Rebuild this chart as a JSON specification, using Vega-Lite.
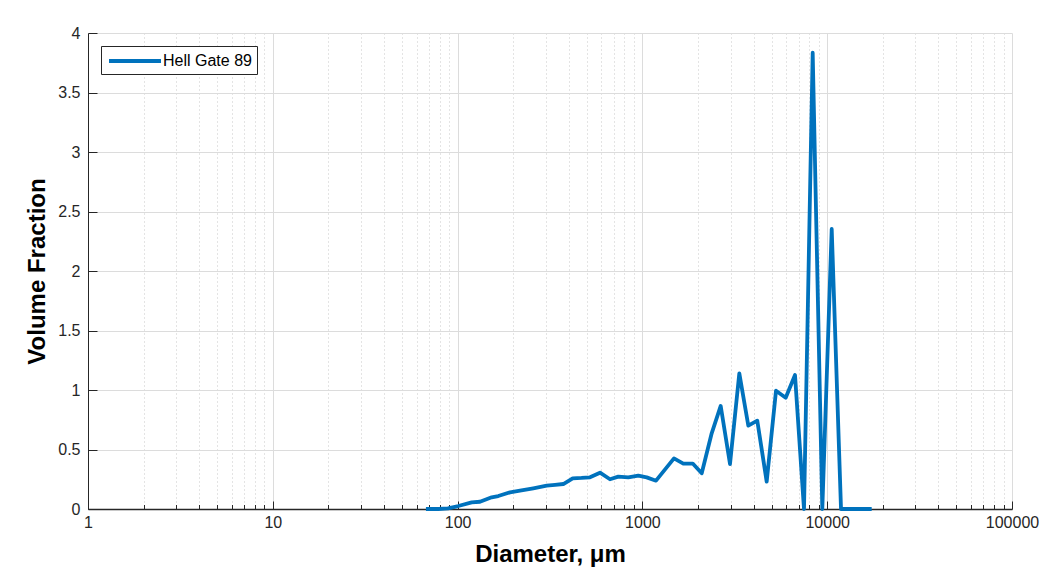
{
  "$schema": "https://vega.github.io/schema/vega-lite/v6.json",
  "width": 924,
  "height": 476,
  "autosize": {"type": "none"},
  "padding": {"left": 88, "top": 33, "right": 33, "bottom": 64},
  "background": "white",
  "config": {
    "view": {"stroke": null},
    "font": "Liberation Sans",
    "axis": {
      "labelFont": "Liberation Sans",
      "titleFont": "Liberation Sans",
      "labelColor": "#262626",
      "titleColor": "#000000",
      "domainColor": "#262626",
      "tickColor": "#262626",
      "labelFontSize": 16,
      "titleFontSize": 24,
      "titleFontWeight": "bold",
      "labelOverlap": false,
      "labelBound": false,
      "labelFlush": false
    }
  },
  "data": {
    "values": [
      {"sample": "Hell Gate 89", "diameter": 67.4, "volume_fraction": 0},
      {"sample": "Hell Gate 89", "diameter": 78.6, "volume_fraction": 0},
      {"sample": "Hell Gate 89", "diameter": 88.7, "volume_fraction": 0.005},
      {"sample": "Hell Gate 89", "diameter": 100.9, "volume_fraction": 0.025},
      {"sample": "Hell Gate 89", "diameter": 119.2, "volume_fraction": 0.056},
      {"sample": "Hell Gate 89", "diameter": 132.2, "volume_fraction": 0.061},
      {"sample": "Hell Gate 89", "diameter": 152.9, "volume_fraction": 0.098},
      {"sample": "Hell Gate 89", "diameter": 166.0, "volume_fraction": 0.109},
      {"sample": "Hell Gate 89", "diameter": 192.1, "volume_fraction": 0.14},
      {"sample": "Hell Gate 89", "diameter": 217.6, "volume_fraction": 0.154},
      {"sample": "Hell Gate 89", "diameter": 256.8, "volume_fraction": 0.174},
      {"sample": "Hell Gate 89", "diameter": 303.4, "volume_fraction": 0.196},
      {"sample": "Hell Gate 89", "diameter": 337.0, "volume_fraction": 0.203},
      {"sample": "Hell Gate 89", "diameter": 373.3, "volume_fraction": 0.21},
      {"sample": "Hell Gate 89", "diameter": 419.6, "volume_fraction": 0.258},
      {"sample": "Hell Gate 89", "diameter": 468.0, "volume_fraction": 0.261},
      {"sample": "Hell Gate 89", "diameter": 520.6, "volume_fraction": 0.266},
      {"sample": "Hell Gate 89", "diameter": 589.6, "volume_fraction": 0.305},
      {"sample": "Hell Gate 89", "diameter": 667.7, "volume_fraction": 0.25},
      {"sample": "Hell Gate 89", "diameter": 740.6, "volume_fraction": 0.272},
      {"sample": "Hell Gate 89", "diameter": 838.8, "volume_fraction": 0.266},
      {"sample": "Hell Gate 89", "diameter": 950.1, "volume_fraction": 0.28},
      {"sample": "Hell Gate 89", "diameter": 1055, "volume_fraction": 0.266},
      {"sample": "Hell Gate 89", "diameter": 1185, "volume_fraction": 0.238},
      {"sample": "Hell Gate 89", "diameter": 1482, "volume_fraction": 0.425},
      {"sample": "Hell Gate 89", "diameter": 1665, "volume_fraction": 0.382},
      {"sample": "Hell Gate 89", "diameter": 1872, "volume_fraction": 0.382},
      {"sample": "Hell Gate 89", "diameter": 2094, "volume_fraction": 0.3},
      {"sample": "Hell Gate 89", "diameter": 2371, "volume_fraction": 0.636},
      {"sample": "Hell Gate 89", "diameter": 2653, "volume_fraction": 0.866},
      {"sample": "Hell Gate 89", "diameter": 2979, "volume_fraction": 0.378},
      {"sample": "Hell Gate 89", "diameter": 3345, "volume_fraction": 1.14},
      {"sample": "Hell Gate 89", "diameter": 3743, "volume_fraction": 0.7},
      {"sample": "Hell Gate 89", "diameter": 4185, "volume_fraction": 0.742},
      {"sample": "Hell Gate 89", "diameter": 4705, "volume_fraction": 0.23},
      {"sample": "Hell Gate 89", "diameter": 5284, "volume_fraction": 0.994},
      {"sample": "Hell Gate 89", "diameter": 5963, "volume_fraction": 0.935},
      {"sample": "Hell Gate 89", "diameter": 6696, "volume_fraction": 1.126},
      {"sample": "Hell Gate 89", "diameter": 7490, "volume_fraction": 0},
      {"sample": "Hell Gate 89", "diameter": 8346, "volume_fraction": 3.834},
      {"sample": "Hell Gate 89", "diameter": 9408, "volume_fraction": 0},
      {"sample": "Hell Gate 89", "diameter": 10578, "volume_fraction": 2.353},
      {"sample": "Hell Gate 89", "diameter": 11878, "volume_fraction": 0},
      {"sample": "Hell Gate 89", "diameter": 13330, "volume_fraction": 0},
      {"sample": "Hell Gate 89", "diameter": 14960, "volume_fraction": 0},
      {"sample": "Hell Gate 89", "diameter": 17410, "volume_fraction": 0}
    ]
  },
  "mark": {"type": "line", "strokeWidth": 3.8, "strokeJoin": "round", "strokeCap": "butt"},
  "encoding": {
    "x": {
      "field": "diameter",
      "type": "quantitative",
      "scale": {"type": "log", "domain": [1, 100000], "nice": false},
      "axis": {
        "title": "Diameter, μm",
        "titlePadding": 9,
        "values": [1,2,3,4,5,6,7,8,9,10,20,30,40,50,60,70,80,90,100,200,300,400,500,600,700,800,900,1000,2000,3000,4000,5000,6000,7000,8000,9000,10000,20000,30000,40000,50000,60000,70000,80000,90000,100000],
        "format": "d",
        "labelExpr": "indexof([1,10,100,1000,10000,100000], datum.value) >= 0 ? datum.label : ''",
        "labelPadding": 13,
        "domainWidth": 1.5,
        "tickSize": {"condition": {"test": "indexof([1,10,100,1000,10000,100000], datum.value) >= 0", "value": -8}, "value": -4.5},
        "tickWidth": 1,
        "grid": true,
        "gridColor": {"condition": {"test": "indexof([1,10,100,1000,10000,100000], datum.value) >= 0", "value": "#dcdcdc"}, "value": "#c8c8c8"},
        "gridDash": {"condition": {"test": "indexof([1,10,100,1000,10000,100000], datum.value) >= 0", "value": []}, "value": [1, 3]},
        "gridWidth": 1
      }
    },
    "y": {
      "field": "volume_fraction",
      "type": "quantitative",
      "scale": {"domain": [0, 4], "nice": false},
      "axis": {
        "title": "Volume Fraction",
        "titlePadding": 8,
        "values": [0, 0.5, 1, 1.5, 2, 2.5, 3, 3.5, 4],
        "format": "~g",
        "tickSize": -9,
        "labelPadding": 17,
        "domainWidth": 1,
        "grid": true,
        "gridColor": "#dcdcdc",
        "gridWidth": 1
      }
    },
    "color": {
      "field": "sample",
      "type": "nominal",
      "scale": {"range": ["#0072BD"]},
      "legend": {
        "title": null,
        "orient": "top-left",
        "offset": 13,
        "symbolType": "M-3.25,0H3.25",
        "symbolSize": 256,
        "symbolOffset": 19,
        "symbolStrokeWidth": 3.8,
        "symbolStrokeColor": "#0072BD",
        "symbolFillColor": "transparent",
        "labelFont": "Liberation Sans",
        "labelFontSize": 16,
        "labelColor": "#000000",
        "labelOffset": 18,
        "strokeColor": "#262626",
        "fillColor": "white",
        "padding": 5
      }
    }
  }
}
